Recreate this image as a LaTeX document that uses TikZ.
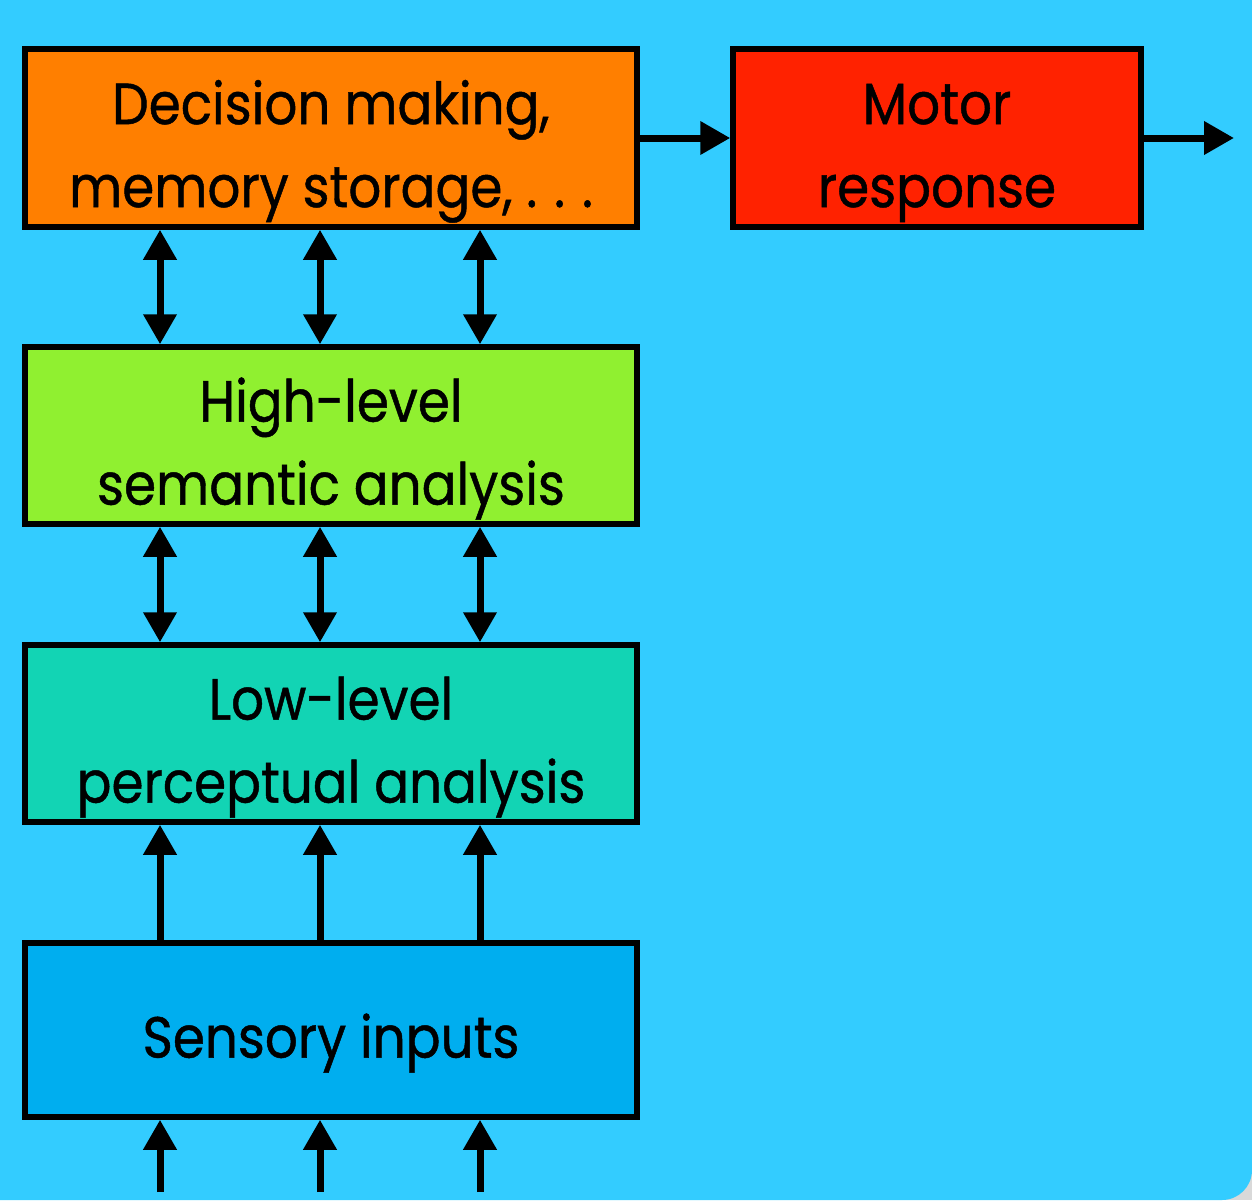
\documentclass[tikz,border=0pt]{standalone}
\usepackage{fontspec}
\setmainfont{Poppins}[FakeStretch=0.89,FakeBold=0.8]
\usetikzlibrary{arrows.meta}
\definecolor{bgblue}{HTML}{33CCFF}
\definecolor{cornergrey}{HTML}{D9D9D9}
\definecolor{cdecide}{HTML}{FF7F00}
\definecolor{cmotor}{HTML}{FF2200}
\definecolor{chigh}{HTML}{90F030}
\definecolor{clow}{HTML}{12D4B4}
\definecolor{csense}{HTML}{00AEEF}
\newcommand\boxtext[1]{\raisebox{-11pt}[\height][\depth]{\begin{tabular}{@{}c@{}}#1\end{tabular}}}
\newcommand\wideellipsis{.\kern 17pt.\kern 17pt.}
\tikzset{
  box/.style={draw=black, line width=5.5pt, rectangle, align=center,
    font=\fontsize{58}{83}\selectfont, inner sep=0pt, text=black},
  uparrow/.style={line width=7pt, -{Triangle[width=32pt,length=30pt]}},
  dblarrow/.style={line width=7pt, {Triangle[width=32pt,length=30pt]}-{Triangle[width=32pt,length=30pt]}},
}
\begin{document}
\begin{tikzpicture}[x=1pt,y=-1pt]
\fill[cornergrey] (0,0) rectangle (1252,1200);
\fill[bgblue] (0,0) -- (1252,0) -- (1252,1170) arc[start angle=0,end angle=90,radius=30] -- (0,1200) -- cycle;
\useasboundingbox (0,0) rectangle (1252,1200);

\node[box, fill=cdecide, minimum width=612pt, minimum height=178pt] (A) at (331,138) {\boxtext{Decision making,\\memory storage, \wideellipsis}};
\node[box, fill=cmotor, minimum width=408pt, minimum height=178pt] (M) at (937,138) {\boxtext{Motor\\response}};
\node[box, fill=chigh, minimum width=612pt, minimum height=177pt] (B) at (331,435.5) {\boxtext{High-level\\semantic analysis}};
\node[box, fill=clow, minimum width=612pt, minimum height=177pt] (C) at (331,733.5) {\boxtext{Low-level\\perceptual analysis}};
\node[box, fill=csense, minimum width=612pt, minimum height=174pt] (D) at (331,1030) {\boxtext{Sensory inputs}};

\coordinate (out) at (1234,138);
\foreach \x/\n in {160/1,320/2,480/3}{
  \coordinate (in\n) at (\x,1192);
  \draw[dblarrow] (A.south -| in\n) -- (B.north -| in\n);
  \draw[dblarrow] (B.south -| in\n) -- (C.north -| in\n);
  \draw[uparrow] (D.north -| in\n) -- (C.south -| in\n);
  \draw[uparrow] (in\n) -- (D.south -| in\n);
}
\draw[uparrow] (A.east) -- (M.west);
\draw[uparrow] (M.east) -- (out);
\end{tikzpicture}
\end{document}
